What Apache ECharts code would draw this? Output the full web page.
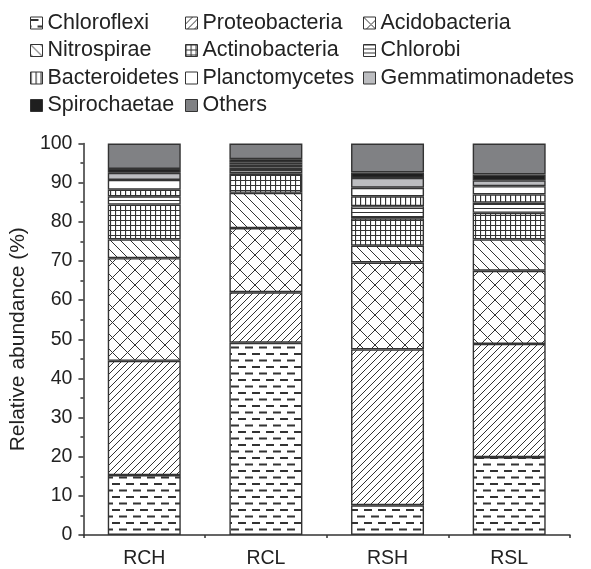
<!DOCTYPE html>
<html>
<head>
<meta charset="utf-8">
<script src="https://cdn.jsdelivr.net/npm/echarts@6/dist/echarts.min.js"></script>
<style>
html,body{margin:0;padding:0;background:#fff;}
#chart{width:591px;height:569px;}
</style>
</head>
<body>
<div id="chart"></div>
<script>
// ---- data (relative abundance, %) ----
var categories = ['RCH', 'RCL', 'RSH', 'RSL'];
var yTicks = [0, 10, 20, 30, 40, 50, 60, 70, 80, 90, 100];
var chloroflexi      = [15.3, 49.1,  7.6, 19.9];
var proteobacteria   = [29.2, 12.9, 39.8, 28.9];
var acidobacteria    = [26.2, 16.4, 22.2, 18.7];
var nitrospirae      = [ 4.8,  9.0,  4.3,  8.0];
var actinobacteria   = [ 8.9,  4.9,  7.0,  6.8];
var chlorobi         = [ 2.1,  0.9,  3.1,  2.6];
var bacteroidetes    = [ 1.7,  0.7,  2.5,  2.1];
var planctomycetes   = [ 2.5,  0.7,  2.2,  2.1];
var gemmatimonadetes = [ 1.8,  0.6,  2.5,  1.5];
var spirochaetae     = [ 1.0,  0.8,  1.4,  1.5];
var others           = [ 6.5,  4.0,  7.4,  7.9];

var phyla = ['Chloroflexi','Proteobacteria','Acidobacteria','Nitrospirae','Actinobacteria',
             'Chlorobi','Bacteroidetes','Planctomycetes','Gemmatimonadetes','Spirochaetae','Others'];
var phylaData = [chloroflexi, proteobacteria, acidobacteria, nitrospirae, actinobacteria,
                 chlorobi, bacteroidetes, planctomycetes, gemmatimonadetes, spirochaetae, others];

// ---- fill patterns ----
var INK = '#333333';
function pat(w, h, draw) {
  var c = document.createElement('canvas');
  c.width = w; c.height = h;
  var g = c.getContext('2d');
  g.fillStyle = '#fff'; g.fillRect(0, 0, w, h);
  g.strokeStyle = INK; g.fillStyle = INK; g.lineWidth = 1;
  draw(g, w, h);
  return { image: c, repeat: 'repeat' };
}
var fills = {
  Chloroflexi: pat(14, 13, function (g) {
    g.lineWidth = 2;
    g.beginPath();
    g.moveTo(0, 3); g.lineTo(8, 3);
    g.moveTo(7, 9.5); g.lineTo(14, 9.5);
    g.moveTo(0, 9.5); g.lineTo(1, 9.5);
    g.stroke();
  }),
  Proteobacteria: pat(7, 7, function (g, w, h) {
    g.beginPath();
    for (var k = -1; k <= 1; k++) { g.moveTo(k * w, h); g.lineTo(k * w + w, 0); }
    g.stroke();
  }),
  Acidobacteria: pat(15, 15, function (g, w, h) {
    g.beginPath();
    g.moveTo(0, 0); g.lineTo(w, h);
    g.moveTo(0, h); g.lineTo(w, 0);
    g.stroke();
  }),
  Nitrospirae: pat(10, 10, function (g, w, h) {
    g.beginPath();
    for (var k = -1; k <= 1; k++) { g.moveTo(k * w, 0); g.lineTo(k * w + w, h); }
    g.stroke();
  }),
  Actinobacteria: pat(5, 5, function (g) {
    g.lineWidth = 1.2;
    g.beginPath();
    g.moveTo(0, 0.5); g.lineTo(5, 0.5);
    g.moveTo(0.5, 0); g.lineTo(0.5, 5);
    g.stroke();
  }),
  Chlorobi: pat(4, 4, function (g) {
    g.beginPath(); g.moveTo(0, 0.5); g.lineTo(4, 0.5); g.stroke();
  }),
  Bacteroidetes: pat(5, 4, function (g) {
    g.lineWidth = 1.3;
    g.beginPath(); g.moveTo(0.5, 0); g.lineTo(0.5, 4); g.stroke();
  }),
  Planctomycetes: '#ffffff',
  Gemmatimonadetes: '#bcbdc0',
  Spirochaetae: '#1f1f1f',
  Others: '#808184'
};

var FONT = 'Liberation Sans, Arial, sans-serif';
var series = phyla.map(function (name, i) {
  return {
    name: name,
    type: 'bar',
    stack: 'total',
    barWidth: '60%',
    data: phylaData[i],
    itemStyle: { color: fills[name], borderColor: '#333', borderWidth: 1.4 },
    emphasis: { disabled: true }
  };
});

function legendCol(left, names) {
  return {
    orient: 'vertical',
    left: left, top: 7,
    itemWidth: 12, itemHeight: 12,
    itemGap: 5.5,
    icon: 'rect',
    itemStyle: { borderColor: '#333', borderWidth: 1 },
    textStyle: { fontFamily: FONT, fontSize: 21.5, color: '#222', padding: [0, 0, 0, 0] },
    data: names,
    selectedMode: false
  };
}

var chart = echarts.init(document.getElementById('chart'), null, { renderer: 'canvas' });
chart.setOption({
  animation: false,
  backgroundColor: '#fff',
  legend: [
    legendCol(25, ['Chloroflexi', 'Nitrospirae', 'Bacteroidetes', 'Spirochaetae']),
    legendCol(180, ['Proteobacteria', 'Actinobacteria', 'Planctomycetes', 'Others']),
    legendCol(358, ['Acidobacteria', 'Chlorobi', 'Gemmatimonadetes'])
  ],
  grid: { left: 82, right: 21, top: 143.5, bottom: 31.3, containLabel: false },
  xAxis: [{
    type: 'category',
    data: categories,
    axisLine: { lineStyle: { color: '#333', width: 1.5 } },
    axisTick: { alignWithLabel: true, length: 5, lineStyle: { color: '#333', width: 1.5 } },
    axisLabel: { fontFamily: FONT, fontSize: 19.5, color: '#222', margin: 14 }
  }, {
    type: 'value', min: 0, max: 4, interval: 1, position: 'bottom',
    axisLine: { show: false },
    axisTick: { show: true, length: 3, lineStyle: { color: '#333', width: 1.5 } },
    axisLabel: { show: false },
    splitLine: { show: false }
  }],
  yAxis: {
    type: 'value',
    min: yTicks[0], max: yTicks[yTicks.length - 1], interval: 10,
    name: 'Relative abundance (%)',
    nameLocation: 'middle',
    nameGap: 50,
    nameTextStyle: { fontFamily: FONT, fontSize: 21, color: '#222' },
    axisLine: { show: true, lineStyle: { color: '#333', width: 1.5 } },
    axisTick: { show: true, length: 5, lineStyle: { color: '#333', width: 1.5 } },
    minorTick: { show: true, splitNumber: 2, length: 3, lineStyle: { color: '#333', width: 1.5 } },
    axisLabel: { fontFamily: FONT, fontSize: 19.5, color: '#222', margin: 11 },
    splitLine: { show: false }
  },
  series: series
});
</script>
</body>
</html>
